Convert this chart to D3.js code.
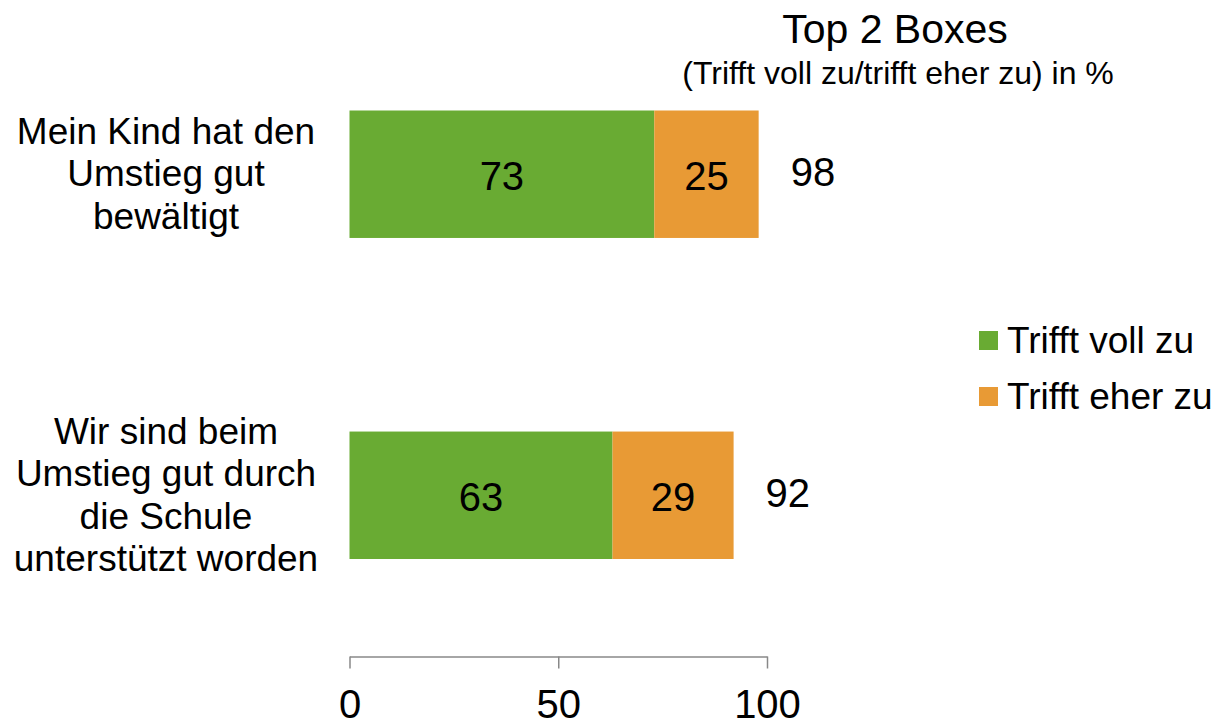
<!DOCTYPE html>
<html>
<head>
<meta charset="utf-8">
<script src="https://cdn.jsdelivr.net/npm/d3@7"></script>
<style>
  body { margin: 0; background: #fff; }
  svg text { font-family: "Liberation Sans", Arial, Helvetica, sans-serif; fill: #000; }
</style>
</head>
<body>
<div id="chart"></div>
<script>
var width = 1218;
var height = 725;

var categories = [
    ["Mein Kind hat den", "Umstieg gut", "bewältigt"],
    ["Wir sind beim", "Umstieg gut durch", "die Schule", "unterstützt worden"]
];
var volZu = [73, 63];
var eherZu = [25, 29];
var totals = [98, 92];
var seriesNames = ["Trifft voll zu", "Trifft eher zu"];
var tickValues = [0, 50, 100];

var colors = ["#69ab33", "#e89a35"];

var svg = d3.select("#chart")
    .append("svg")
    .attr("width", width)
    .attr("height", height);

var x = d3.scaleLinear()
    .domain([0, 100])
    .range([349.5, 767]);

var y = d3.scaleBand()
    .domain(d3.range(categories.length))
    .range([110.5, 559])
    .paddingInner(0.603)
    .paddingOuter(0);

// title
svg.append("text")
    .attr("x", 895)
    .attr("y", 43)
    .attr("text-anchor", "middle")
    .style("font-size", "41px")
    .text("Top 2 Boxes");

svg.append("text")
    .attr("x", 898)
    .attr("y", 84)
    .attr("text-anchor", "middle")
    .style("font-size", "32px")
    .text("(Trifft voll zu/trifft eher zu) in %");

var rows = svg.selectAll("g.row")
    .data(d3.range(categories.length))
    .enter()
    .append("g")
    .attr("class", "row");

// green segment
rows.append("rect")
    .attr("x", x(0))
    .attr("y", function(i) { return y(i); })
    .attr("width", function(i) { return x(volZu[i]) - x(0); })
    .attr("height", y.bandwidth())
    .attr("fill", colors[0]);

// orange segment
rows.append("rect")
    .attr("x", function(i) { return x(volZu[i]); })
    .attr("y", function(i) { return y(i); })
    .attr("width", function(i) { return x(volZu[i] + eherZu[i]) - x(volZu[i]); })
    .attr("height", y.bandwidth())
    .attr("fill", colors[1]);

rows.append("text")
    .attr("x", function(i) { return (x(0) + x(volZu[i])) / 2; })
    .attr("y", function(i) { return y(i) + y.bandwidth() / 2; })
    .attr("dy", "0.4em")
    .attr("text-anchor", "middle")
    .style("font-size", "40px")
    .text(function(i) { return volZu[i]; });

rows.append("text")
    .attr("x", function(i) { return (x(volZu[i]) + x(volZu[i] + eherZu[i])) / 2; })
    .attr("y", function(i) { return y(i) + y.bandwidth() / 2; })
    .attr("dy", "0.4em")
    .attr("text-anchor", "middle")
    .style("font-size", "40px")
    .text(function(i) { return eherZu[i]; });

// totals
rows.append("text")
    .attr("x", function(i) { return x(totals[i]) + 32; })
    .attr("y", function(i) { return y(i) + y.bandwidth() / 2; })
    .attr("dy", "0.3em")
    .style("font-size", "40px")
    .text(function(i) { return totals[i]; });

// category labels
rows.append("text")
    .attr("text-anchor", "middle")
    .style("font-size", "37px")
    .each(function(i) {
        var lines = categories[i];
        var mid = y(i) + y.bandwidth() / 2;
        var lh = 42.3;
        var start = mid - (lines.length - 1) * lh / 2;
        d3.select(this).selectAll("tspan")
            .data(lines)
            .enter()
            .append("tspan")
            .attr("x", 166)
            .attr("y", function(d, k) { return start + k * lh; })
            .attr("dy", "0.33em")
            .text(function(d) { return d; });
    });

// axis
var axis = d3.axisBottom(x)
    .tickValues(tickValues)
    .tickSize(12)
    .tickSizeOuter(0)
    .tickPadding(21);

var ax = svg.append("g")
    .attr("transform", "translate(0,656.5)")
    .call(axis);

ax.select(".domain").attr("stroke", "#888").attr("stroke-width", 1.5);
ax.selectAll(".tick line").attr("stroke", "#888").attr("stroke-width", 1.5);
ax.selectAll(".tick text")
    .style("font-size", "40px")
    .style("font-family", "'Liberation Sans', Arial, sans-serif")
    .attr("fill", "#000");

// legend
var legend = svg.selectAll("g.legend")
    .data(seriesNames)
    .enter()
    .append("g")
    .attr("class", "legend")
    .attr("transform", function(d, i) { return "translate(979," + (331 + i * 56) + ")"; });

legend.append("rect")
    .attr("width", 19)
    .attr("height", 19)
    .attr("fill", function(d, i) { return colors[i]; });

legend.append("text")
    .attr("x", 28)
    .attr("y", 10)
    .attr("dy", "0.33em")
    .style("font-size", "37px")
    .text(function(d) { return d; });
</script>
</body>
</html>
